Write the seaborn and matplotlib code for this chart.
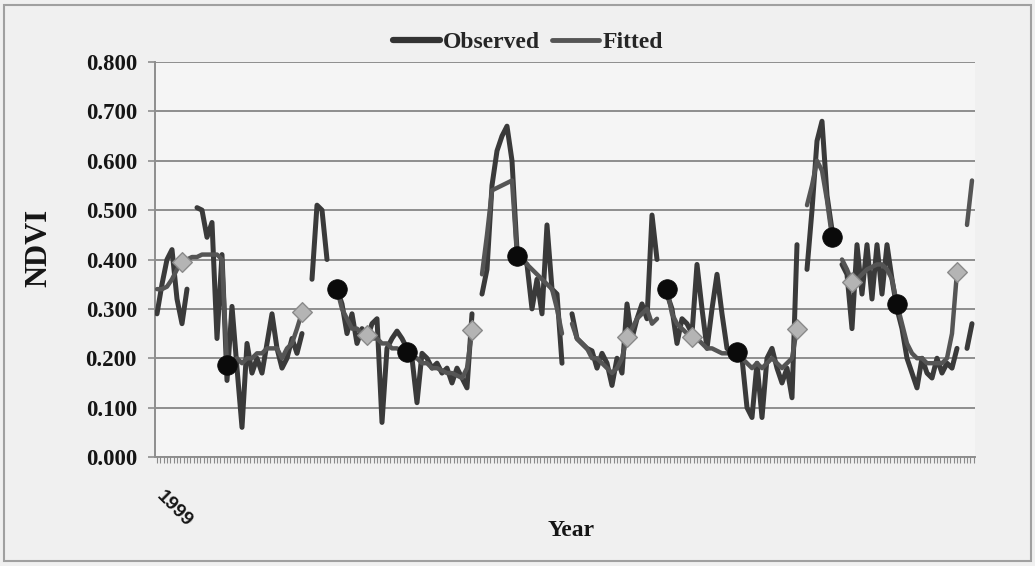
import numpy as np
import pandas as pd
import matplotlib
matplotlib.use("Agg")
import matplotlib.pyplot as plt
from matplotlib.lines import Line2D
from matplotlib.patches import Rectangle
from matplotlib.ticker import MultipleLocator, FixedLocator
from matplotlib.transforms import ScaledTranslation
import seaborn as sns

nan = np.nan

# NDVI composites (one value per step); NaN marks missing composites
observed = [
    0.29, 0.35, 0.40, 0.42, 0.32, 0.27, 0.34, nan, 0.505, 0.50,
    0.445, 0.475, 0.24, 0.41, 0.155, 0.305, 0.18, 0.06, 0.23, 0.17,
    0.20, 0.17, 0.23, 0.29, 0.22, 0.18, 0.20, 0.24, 0.21, 0.25,
    nan, 0.36, 0.51, 0.50, 0.40, nan, 0.34, 0.31, 0.25, 0.29,
    0.23, 0.26, 0.24, 0.27, 0.28, 0.07, 0.22, 0.24, 0.255, 0.24,
    0.22, 0.20, 0.11, 0.21, 0.20, 0.18, 0.19, 0.17, 0.18, 0.15,
    0.18, 0.16, 0.14, 0.29, nan, 0.33, 0.38, 0.55, 0.62, 0.65,
    0.67, 0.60, 0.42, 0.40, 0.39, 0.30, 0.36, 0.29, 0.47, 0.34,
    0.33, 0.19, nan, 0.29, 0.24, 0.23, 0.22, 0.215, 0.18, 0.21,
    0.19, 0.145, 0.20, 0.17, 0.31, 0.24, 0.28, 0.31, 0.28, 0.49,
    0.40, nan, 0.33, 0.30, 0.23, 0.28, 0.27, 0.25, 0.39, 0.30,
    0.22, 0.30, 0.37, 0.29, 0.22, 0.21, 0.21, 0.20, 0.10, 0.08,
    0.19, 0.08, 0.20, 0.22, 0.18, 0.15, 0.18, 0.12, 0.43, nan,
    0.38, 0.50, 0.64, 0.68, 0.53, 0.46, nan, 0.39, 0.37, 0.26,
    0.43, 0.33, 0.43, 0.32, 0.43, 0.33, 0.43, 0.36, 0.30, 0.26,
    0.20, 0.17, 0.14, 0.20, 0.17, 0.16, 0.20, 0.17, 0.19, 0.18,
    0.22, nan, 0.22, 0.27,
]

fitted = [
    0.34, 0.34, 0.345, 0.36, 0.38, 0.395, 0.40, 0.405, 0.405, 0.41,
    0.41, 0.41, 0.41, 0.40, 0.186, 0.19, 0.20, 0.19, 0.20, 0.20,
    0.21, 0.21, 0.22, 0.22, 0.22, 0.20, 0.22, 0.23, 0.26, 0.293,
    nan, nan, nan, nan, nan, nan, 0.34, 0.30, 0.28, 0.26,
    0.26, 0.25, 0.247, 0.24, 0.24, 0.23, 0.23, 0.22, 0.22, 0.215,
    0.213, 0.20, 0.20, 0.19, 0.19, 0.18, 0.18, 0.175, 0.17, 0.17,
    0.165, 0.16, 0.18, 0.257, nan, 0.37, 0.45, 0.54, 0.545, 0.55,
    0.555, 0.56, 0.408, 0.40, 0.39, 0.38, 0.37, 0.36, 0.35, 0.34,
    0.30, 0.25, nan, 0.27, 0.24, 0.23, 0.22, 0.20, 0.20, 0.19,
    0.18, 0.17, 0.18, 0.20, 0.243, 0.26, 0.28, 0.29, 0.30, 0.27,
    0.28, nan, 0.34, 0.29, 0.27, 0.26, 0.25, 0.243, 0.24, 0.23,
    0.22, 0.22, 0.215, 0.21, 0.21, 0.21, 0.213, 0.20, 0.19, 0.18,
    0.19, 0.18, 0.19, 0.20, 0.19, 0.18, 0.19, 0.20, 0.26, nan,
    0.51, 0.55, 0.60, 0.58, 0.52, 0.446, nan, 0.40, 0.38, 0.354,
    0.36, 0.37, 0.38, 0.385, 0.39, 0.39, 0.38, 0.36, 0.31, 0.27,
    0.23, 0.21, 0.20, 0.20, 0.19, 0.19, 0.19, 0.19, 0.20, 0.25,
    0.375, nan, 0.47, 0.56,
]

# phenology points on the fitted curve
peak_steps = [14, 36, 50, 72, 102, 116, 135, 148]
season_steps = [5, 29, 42, 63, 94, 107, 128, 139, 160]

y_ticks = [0.0, 0.1, 0.2, 0.3, 0.4, 0.5, 0.6, 0.7, 0.8]
x_tick_steps = [0]
x_tick_labels = ["1999"]
series_names = ["Observed", "Fitted"]

sns.set_theme(style="white")
plt.rcParams["font.family"] = ["Liberation Serif", "DejaVu Serif"]

obs_color = "#3a3a3a"
fit_color = "#555555"
grid_color = "#8e8e8e"


def as_segments(values, name):
    s = pd.Series(values, dtype=float)
    df = pd.DataFrame({
        "step": np.arange(len(s)),
        "ndvi": s,
        "segment": s.isna().cumsum(),
        "series": name,
    })
    return df.dropna()


obs_df = as_segments(observed, series_names[0])
fit_df = as_segments(fitted, series_names[1])

W, H = 1035, 566
fig = plt.figure(figsize=(W / 100, H / 100), dpi=100, facecolor="#f0f0f0")
ax = fig.add_axes([155 / W, 1 - 457 / H, 820 / W, 395 / H])
ax.set_facecolor("#f5f5f5")

# outer frame of the chart
fig.patches.append(Rectangle((4 / W, 5 / H), 1027 / W, 556 / H,
                             transform=fig.transFigure, fill=False,
                             edgecolor="#a0a0a0", lw=1.5))

for v in y_ticks:
    ax.axhline(v, color=grid_color, lw=1.4, zorder=1)

sns.lineplot(data=obs_df, x="step", y="ndvi", units="segment", estimator=None,
             color=obs_color, lw=3.6, ax=ax, legend=False, zorder=3)
sns.lineplot(data=fit_df, x="step", y="ndvi", units="segment", estimator=None,
             color=fit_color, lw=3.2, ax=ax, legend=False, zorder=3)

sns.scatterplot(x=season_steps, y=[fitted[i] for i in season_steps], marker="D",
                s=100, color="#b4b4b4", edgecolor="#8a8a8a", linewidth=1.0,
                ax=ax, zorder=5)
sns.scatterplot(x=peak_steps, y=[fitted[i] for i in peak_steps], marker="o",
                s=200, color="#0a0a0a", edgecolor="#0a0a0a", linewidth=0.5,
                ax=ax, zorder=6)

ax.set_xlim(-0.4, 163.6)
ax.set_ylim(0, 0.8)
ax.set_yticks(y_ticks)
ax.set_yticklabels([f"{v:.3f}" for v in y_ticks], fontsize=16.5,
                   fontweight="bold", color="#151515")
ax.tick_params(axis="y", length=5, width=1.2, color=grid_color, pad=8, left=True)

ax.xaxis.set_major_locator(FixedLocator(x_tick_steps))
ax.set_xticklabels(x_tick_labels, rotation=-45, ha="left", rotation_mode="anchor",
                   fontsize=14, fontweight="bold", color="#151515",
                   family=["Liberation Sans", "DejaVu Sans"])
ax.xaxis.set_minor_locator(MultipleLocator(2 / 3))
ax.tick_params(axis="x", which="both", length=4, width=0.8, color="#8a8a8a",
               bottom=True, pad=18)
for lab in ax.get_xticklabels():
    lab.set_transform(lab.get_transform() + ScaledTranslation(6 / 72, 0, fig.dpi_scale_trans))

for side in ["top", "right"]:
    ax.spines[side].set_visible(False)
ax.spines["left"].set_color(grid_color)
ax.spines["left"].set_linewidth(1.4)
ax.spines["bottom"].set_color(grid_color)
ax.spines["bottom"].set_linewidth(1.4)

ax.set_ylabel("NDVI", fontsize=22, fontweight="bold", color="#151515")
ax.yaxis.set_label_coords(-0.124, 0.53)
ax.set_xlabel("Year", fontsize=17, fontweight="bold", color="#151515")
ax.xaxis.set_label_coords(0.507, -0.16)

handles = [Line2D([], [], color="#333333", lw=4.5),
           Line2D([], [], color="#555555", lw=3.5)]
fig.legend(handles, series_names, loc="center", bbox_to_anchor=(528 / W, 1 - 42 / H),
           ncol=2, frameon=False, handlelength=2.0, handletextpad=0.15,
           columnspacing=0.5, prop={"family": "Liberation Serif", "weight": "bold",
                                    "size": 17})

fig.savefig("out.png", dpi=100, facecolor=fig.get_facecolor())
